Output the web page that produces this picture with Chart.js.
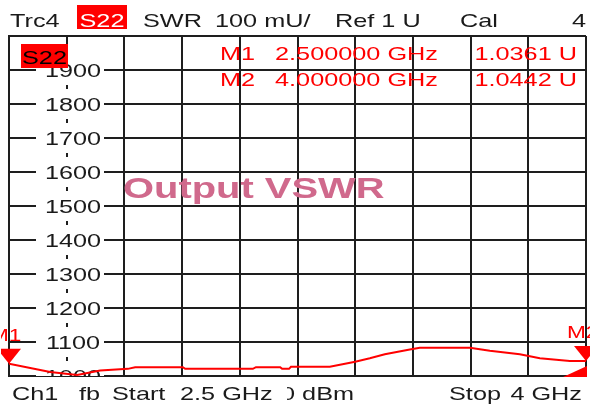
<!DOCTYPE html>
<html>
<head>
<meta charset="utf-8">
<script src="https://cdn.jsdelivr.net/npm/chart.js"></script>
<style>
  body { margin: 0; background: #fff; }
</style>
</head>
<body>
<canvas id="vswrCanvas" width="597" height="410"></canvas>
<script>
// trace (SWR in mU, as the analyzer labels it)
const freqGHz = [2.5, 2.607, 2.677, 2.737, 2.809, 2.828, 2.952, 2.958, 3.134, 3.142, 3.205, 3.21, 3.228, 3.233, 3.334, 3.4, 3.438, 3.477, 3.542, 3.568, 3.698, 3.75, 3.828, 3.88, 3.958, 4.0];
const swrMilli = [1036, 1012, 1003, 1016, 1021, 1026, 1026, 1021, 1021, 1026, 1026, 1021, 1021, 1027, 1027, 1042, 1052, 1064, 1078, 1083, 1083, 1074, 1064, 1052, 1044, 1044];

const markerNames = ["M1", "M2"];
const markerFreqGHz = [2.5, 4.0];
const markerSwr = [1.0361, 1.0442];

const xGridTicks = [2.5, 2.65, 2.8, 2.95, 3.1, 3.25, 3.4, 3.55, 3.7, 3.85, 4.0];
const yTickLabels = [1000, 1100, 1200, 1300, 1400, 1500, 1600, 1700, 1800, 1900];

const FONT = '"Liberation Sans", Arial, sans-serif';
const SX = 1.33; // the screenshot is stretched sideways

function txt(ctx, s, x, y, size, color, align, bold, sx) {
  ctx.save();
  ctx.font = (bold ? "bold " : "") + size + "px " + FONT;
  ctx.fillStyle = color;
  ctx.textAlign = align || "left";
  ctx.textBaseline = "alphabetic";
  ctx.translate(x, y);
  ctx.scale(sx || SX, 1);
  ctx.fillText(s, 0, 0);
  ctx.restore();
}

const screenPlugin = {
  id: "screen",
  beforeDatasetsDraw(chart) {
    const ctx = chart.ctx;
    const a = chart.chartArea;
    const y = chart.scales.y;
    ctx.save();
    ctx.beginPath();
    ctx.rect(a.left, a.top, a.right - a.left, a.bottom - a.top);
    ctx.clip();
    yTickLabels.forEach((v) => {
      let py = y.getPixelForValue(v);
      ctx.fillStyle = "#fff";
      ctx.fillRect(a.left + 27, py - 15, 68, 30);
      txt(ctx, String(v), a.left + 64, py + 6.5, 18, "#1a1a1a", "center", false, 1.4);
    });
    ctx.restore();
  },
  afterDatasetsDraw(chart) {
    const ctx = chart.ctx;
    const a = chart.chartArea;
    const x = chart.scales.x;
    const y = chart.scales.y;

    // trace tag
    ctx.fillStyle = "#ff0000";
    ctx.fillRect(a.left + 12, a.top + 8, 47, 24);
    txt(ctx, "S22", a.left + 35.5, a.top + 28, 19, "#000", "center");

    // marker readout
    for (let i = 0; i < markerNames.length; i++) {
      let by = 60 + i * 26;
      txt(ctx, markerNames[i], 220, by, 19, "#ff0000", "left");
      txt(ctx, markerFreqGHz[i].toFixed(6) + " GHz", 275, by, 19, "#ff0000", "left");
      txt(ctx, markerSwr[i].toFixed(4) + " U", 577, by, 19, "#ff0000", "right");
    }

    txt(ctx, "Output VSWR", 123, 198, 30, "#d0698c", "left", true);

    // marker symbols
    ctx.save();
    ctx.beginPath();
    ctx.rect(1, 0, 589, 410);
    ctx.clip();
    for (let i = 0; i < markerNames.length; i++) {
      let px = x.getPixelForValue(markerFreqGHz[i]);
      let py = y.getPixelForValue(markerSwr[i] * 1000);
      ctx.fillStyle = "#ff0000";
      ctx.beginPath();
      ctx.moveTo(px - 12, py - 15);
      ctx.lineTo(px + 12, py - 15);
      ctx.lineTo(px, py);
      ctx.closePath();
      ctx.fill();
      txt(ctx, markerNames[i], px - 19, py - 23, 17, "#ff0000", "left");
    }
    ctx.beginPath();
    ctx.moveTo(a.right - 23, a.bottom + 1);
    ctx.lineTo(a.right + 1, a.bottom - 10);
    ctx.lineTo(a.right + 1, a.bottom + 1);
    ctx.closePath();
    ctx.fill();
    ctx.restore();
  },
  afterDraw(chart) {
    const ctx = chart.ctx;
    // header
    txt(ctx, "Trc4", 10, 27, 19, "#1a1a1a");
    ctx.fillStyle = "#ff0000";
    ctx.fillRect(77, 5, 50, 24);
    txt(ctx, "S22", 102, 27, 19, "#fff", "center");
    txt(ctx, "SWR", 143, 27, 19, "#1a1a1a");
    txt(ctx, "100 mU/", 215, 27, 19, "#1a1a1a");
    txt(ctx, "Ref 1 U", 335, 27, 19, "#1a1a1a");
    txt(ctx, "Cal", 460, 27, 19, "#1a1a1a");
    txt(ctx, "4", 586, 27, 19, "#1a1a1a", "right");
    // footer
    txt(ctx, "Ch1", 12, 400, 19, "#1a1a1a");
    txt(ctx, "fb", 79, 400, 19, "#1a1a1a");
    txt(ctx, "Start", 112, 400, 19, "#1a1a1a");
    txt(ctx, "2.5 GHz", 180, 400, 19, "#1a1a1a");
    ctx.save();
    ctx.beginPath();
    ctx.rect(287, 378, 120, 32);
    ctx.clip();
    txt(ctx, "0 dBm", 281, 400, 19, "#1a1a1a");
    ctx.restore();
    txt(ctx, "Stop", 449, 400, 19, "#1a1a1a");
    txt(ctx, "4 GHz", 582, 400, 19, "#1a1a1a", "right");
  }
};

const gridStyle = { color: "#1e1e1e", lineWidth: 2, drawTicks: false };

new Chart(document.getElementById("vswrCanvas"), {
  type: "line",
  data: {
    datasets: [
      {
        label: "S22 SWR",
        data: freqGHz.map((f, i) => ({ x: f, y: swrMilli[i] })),
        borderColor: "#ff0000",
        borderWidth: 2,
        pointRadius: 0,
        tension: 0,
        fill: false,
      },
    ],
  },
  options: {
    responsive: false,
    animation: false,
    layout: { padding: { left: 9, right: 11, top: 36, bottom: 34 } },
    plugins: { legend: { display: false }, tooltip: { enabled: false } },
    scales: {
      x: {
        type: "linear",
        min: 2.5,
        max: 4.0,
        ticks: { display: false },
        grid: gridStyle,
        border: { color: "#1e1e1e", width: 2 },
        afterBuildTicks: (s) => {
          s.ticks = xGridTicks.map((v) => ({ value: v }));
        },
      },
      y: {
        min: 1000,
        max: 2000,
        ticks: { display: false, stepSize: 100 },
        grid: gridStyle,
        border: { color: "#1e1e1e", width: 2 },
      },
    },
  },
  plugins: [screenPlugin],
});
</script>
</body>
</html>
